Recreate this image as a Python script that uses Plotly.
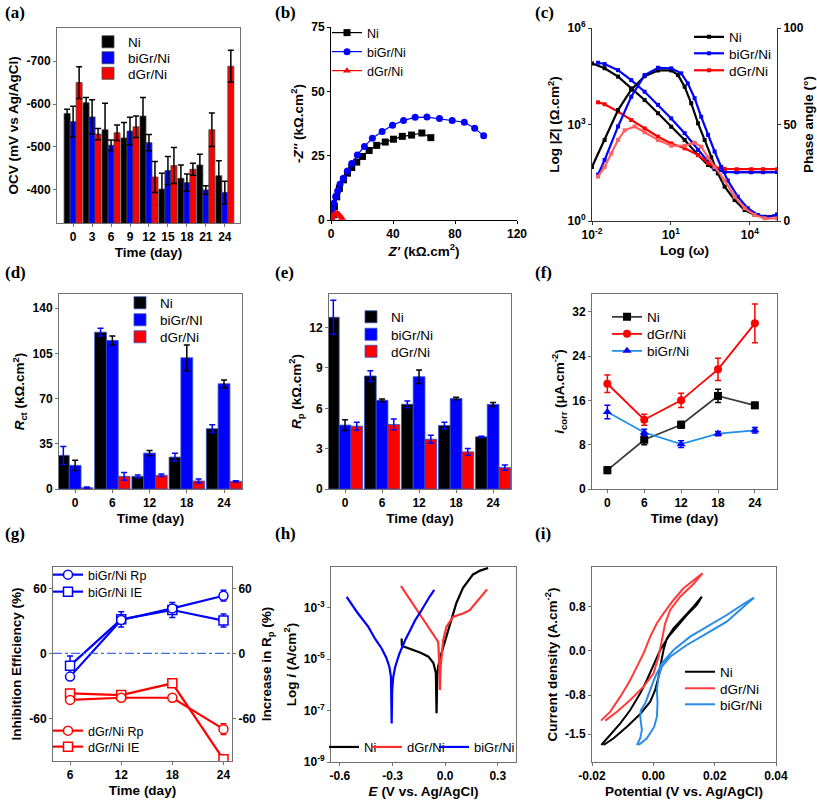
import numpy as np
import plotly.graph_objects as go

W, H = 817, 806
FONT = "Liberation Sans, Arial, sans-serif"

# ---------------- (a) OCV ----------------
days_a = [0, 3, 6, 9, 12, 15, 18, 21, 24]
ocv_ni = [-578, -603, -540, -521, -572, -402, -427, -458, -433]
ocv_ni_err = [10, 12, 62, 36, 43, 37, 31, 25, 35]
ocv_bi = [-559, -570, -504, -537, -510, -445, -417, -400, -394]
ocv_bi_err = [36, 40, 12, 32, 19, 33, 20, 10, 26]
ocv_dg = [-650, -530, -533, -547, -430, -457, -448, -540, -688]
ocv_dg_err = [37, 13, 18, 25, 36, 42, 14, 39, 37]
ocv_ticks = [-700, -600, -500, -400]
ocv_ticktext = ["-700", "-600", "-500", "-400"]

# ---------------- (b) Nyquist ----------------
nyq_ni_x = [1.5, 2.2, 3.7, 5.4, 8, 10.6, 13.4, 16.6, 20.3, 24.6, 29.5, 35, 40.3, 46, 52, 58.6, 64.4]
nyq_ni_y = [2, 5.2, 9, 12.3, 15.6, 18.2, 20.4, 22.5, 24.7, 27, 29, 30.3, 31.4, 32.5, 33, 33.8, 32]
nyq_bi_x = [0.4, 1.1, 1.9, 3, 4.3, 5.8, 8, 10.6, 13.4, 17, 21.6, 26.7, 33, 39.7, 46.8, 54.3, 61.9, 70, 78.2, 86, 92.7, 98.5]
nyq_bi_y = [1.3, 3.9, 6.5, 9, 11.3, 13.9, 16.2, 19, 22, 25.3, 28.6, 31.8, 34.4, 36.8, 38.7, 39.9, 40, 39.4, 38.7, 38, 35.7, 32.7]
nyq_dg_x = [0.5, 1, 2, 3, 4, 5, 6, 7]
nyq_dg_y = [0.5, 1.5, 2.2, 2.6, 2.6, 2.2, 1.5, 0.8]

# ---------------- (c) Bode ----------------
bz_ni_logw = [-2, -1.52, -1.01, -0.51, 0, 0.51, 1.01, 1.52, 2.03, 2.41, 2.66, 3.04, 3.5, 4.05, 4.5, 5.04]
bz_ni_logz = [4.90, 4.75, 4.49, 4.12, 3.76, 3.35, 2.93, 2.52, 2.05, 1.74, 1.61, 1.53, 1.52, 1.52, 1.52, 1.52]
bz_bi_logw = [-1.77, -1.52, -1.01, -0.51, 0, 0.51, 1.01, 1.52, 2.03, 2.41, 2.66, 3.04, 3.5, 4.05, 4.5, 5.04]
bz_bi_logz = [4.92, 4.88, 4.69, 4.38, 4.02, 3.61, 3.19, 2.73, 2.21, 1.84, 1.64, 1.53, 1.52, 1.52, 1.52, 1.52]
bz_dg_logw = [-1.77, -1.52, -1.01, -0.51, 0, 0.51, 1.01, 1.52, 2.03, 2.41, 2.66, 3.04, 3.5, 4.05, 4.5, 5.04]
bz_dg_logz = [3.69, 3.63, 3.40, 3.14, 2.88, 2.62, 2.41, 2.26, 2.05, 1.80, 1.68, 1.62, 1.61, 1.61, 1.61, 1.61]
ph_ni_logw = [-2, -1.52, -1.01, -0.51, 0, 0.51, 1.01, 1.27, 1.52, 1.77, 2.03, 2.28, 2.53, 2.78, 3.04, 3.42, 3.80, 4.18, 4.56, 5.04]
ph_ni = [28, 42, 57.5, 68, 75, 78, 78, 75.6, 69.6, 61, 50.6, 42, 33, 24.7, 17.8, 10.9, 5.7, 3.1, 2.2, 3.1]
ph_bi_logw = [-1.77, -1.52, -1.01, -0.51, 0, 0.51, 1.01, 1.39, 1.64, 1.90, 2.15, 2.41, 2.66, 2.91, 3.16, 3.54, 3.92, 4.30, 4.68, 5.04]
ph_bi = [24, 31.6, 49, 64.4, 75.6, 79.4, 79.1, 76.5, 71.3, 63.6, 54, 44.6, 36, 28, 21, 12.6, 6.6, 3.1, 1.9, 3.5]
ph_dg_logw = [-1.77, -1.52, -1.27, -1.01, -0.76, -0.38, 0, 0.51, 1.01, 1.52, 1.90, 2.15, 2.41, 2.66, 3.04, 3.42, 3.80, 4.18, 4.56, 5.04]
ph_dg = [23, 28, 35, 42, 47, 49, 46, 42, 39, 39, 40.6, 38.5, 33, 28, 21, 12.6, 6.6, 3.1, 1.4, 1.4]

# ---------------- (d) Rct, (e) Rp, (f) icorr ----------------
days5 = [0, 6, 12, 18, 24]
rct_ni = [26, 121.4, 9.8, 24.7, 46.7]
rct_ni_err = [7, 3, 1, 3, 3]
rct_bi = [18.3, 115, 27.8, 101.6, 81.5]
rct_bi_err = [4, 3.5, 2, 10, 3]
rct_dg = [1, 9.8, 10.6, 6.2, 5.9]
rct_dg_err = [0.5, 3, 1, 1.5, 0.5]

rp_ni = [12.77, 8.4, 6.3, 4.72, 3.88]
rp_ni_err = [1.27, 0.4, 0.25, 0.25, 0.05]
rp_bi = [4.75, 6.6, 8.35, 6.73, 6.29]
rp_bi_err = [0.4, 0.1, 0.5, 0.1, 0.15]
rp_dg = [4.67, 4.8, 3.7, 2.76, 1.59]
rp_dg_err = [0.3, 0.4, 0.3, 0.25, 0.2]

ic_ni = [3.4, 8.9, 11.6, 16.8, 15.1]
ic_ni_err = [0.6, 0.9, 0.6, 1.2, 0.5]
ic_dg = [19.0, 12.5, 16.0, 21.6, 29.9]
ic_dg_err = [1.6, 1.0, 1.3, 2.0, 3.5]
ic_bi = [13.9, 10.2, 8.1, 10.0, 10.6]
ic_bi_err = [1.2, 0.6, 0.6, 0.4, 0.5]

# ---------------- (g) inhibition efficiency ----------------
days_g = [6, 12, 18, 24]
bi_rp = [-21.5, 30.8, 41.5, 53.2]
bi_rp_err = [0, 0, 0, 5]
bi_ie = [-11.4, 31.4, 40, 30.2]
bi_ie_err = [9, 7, 7, 6]
dg_rp = [-43, -41, -41, -70]
dg_rp_err = [3, 0, 0, 5]
dg_ie = [-37, -38.5, -27.7, -97.8]
g_ticks = [-60, 0, 60]
g_ticktext = ["-60", "0", "60"]

# ---------------- (h) Tafel ----------------
taf_ni_e = [-0.248, -0.247, -0.240, -0.216, -0.180, -0.140, -0.095, -0.067, -0.053, -0.049, -0.045, -0.040, -0.021, 0.007, 0.036, 0.064, 0.102, 0.159, 0.200, 0.245]
taf_ni_logi = [-4.19, -4.45, -4.50, -4.56, -4.66, -4.75, -4.90, -5.15, -5.54, -7.10, -5.60, -5.28, -4.76, -4.11, -3.40, -2.81, -2.22, -1.70, -1.55, -1.45]
taf_dg_e = [-0.252, -0.212, -0.172, -0.115, -0.058, -0.040, -0.034, -0.030, -0.026, -0.021, -0.011, 0.007, 0.045, 0.075, 0.102, 0.140, 0.188, 0.239]
taf_dg_logi = [-2.15, -2.55, -2.96, -3.54, -4.13, -4.32, -5.04, -6.20, -5.30, -4.91, -4.26, -3.74, -3.35, -3.28, -3.22, -3.09, -2.70, -2.28]
taf_bi_e = [-0.562, -0.50, -0.438, -0.40, -0.362, -0.335, -0.318, -0.309, -0.305, -0.302, -0.296, -0.285, -0.262, -0.229, -0.200, -0.172, -0.140, -0.115, -0.088, -0.062]
taf_bi_logi = [-2.57, -3.19, -3.74, -4.20, -4.58, -4.95, -5.30, -5.69, -7.50, -6.20, -5.69, -5.30, -4.80, -4.27, -3.88, -3.49, -3.15, -2.84, -2.56, -2.30]

# ---------------- (i) CV ----------------
cv_ni_v = [-0.01696, -0.01403, -0.01078, -0.00752, -0.00427, -0.00210, 0.0, 0.00224, 0.00496, 0.00767, 0.01092, 0.01418, 0.01581,
           0.01309, 0.00984, 0.00658, 0.00441, 0.00333, 0.00246, 0.00170, 0.00061, -0.00101, -0.00427, -0.00861, -0.01295, -0.01620]
cv_ni_j = [-1.698, -1.517, -1.306, -1.066, -0.765, -0.524, -0.253, 0.018, 0.259, 0.440, 0.650, 0.831, 0.981,
           0.801, 0.608, 0.409, 0.229, 0.018, -0.223, -0.464, -0.704, -0.915, -1.138, -1.367, -1.577, -1.698]
cv_dg_v = [-0.01707, -0.01403, -0.01078, -0.00752, -0.00535, -0.00318, -0.00101, 0.00116, 0.00333, 0.00658, 0.00984, 0.01309, 0.01602,
           0.01309, 0.00875, 0.00550, 0.00387, 0.00279, 0.00170, 0.00007, -0.00318, -0.00752, -0.01186, -0.01566]
cv_dg_j = [-1.258, -1.096, -0.825, -0.524, -0.283, -0.042, 0.259, 0.500, 0.680, 0.921, 1.132, 1.282, 1.403,
           1.210, 0.981, 0.741, 0.500, 0.199, -0.102, -0.403, -0.644, -0.885, -1.096, -1.258]
cv_bi_v = [-0.00535, -0.00427, -0.00373, -0.00427, -0.00405, -0.00264, -0.00101, 0.00062, 0.00279, 0.00658, 0.01201, 0.01743, 0.02394, 0.02937, 0.03284,
           0.03045, 0.02394, 0.01743, 0.01092, 0.00550, 0.00279, 0.00170, 0.00116, 0.00137, 0.00116, 0.00029, -0.00210, -0.00481]
cv_bi_j = [-1.698, -1.577, -1.427, -1.186, -1.066, -0.945, -0.704, -0.464, -0.223, 0.018, 0.259, 0.440, 0.650, 0.849, 0.963,
           0.849, 0.530, 0.319, 0.108, -0.102, -0.283, -0.464, -0.704, -0.945, -1.186, -1.367, -1.577, -1.698]

# =====================================================================
BLACK, BLUE, RED = "#000000", "#0000FF", "#FF0000"


def xd(a, b):
    return [a / W, b / W]


def yd(top, bot):
    return [1 - bot / H, 1 - top / H]


def axis(title, domain, anchor, rng=None, frame="#707070", mirror=True, standoff=4, **kw):
    d = dict(domain=domain, anchor=anchor, showline=True, linecolor=frame, linewidth=1, automargin=False,
             mirror=mirror, ticks="outside", ticklen=3, tickcolor=frame, showgrid=False,
             zeroline=False, tickfont=dict(size=12, color="black", family=FONT, weight="bold"),
             title=dict(text=title, font=dict(size=13.5, color="black", family=FONT, weight="bold"),
                        standoff=standoff))
    if rng is not None:
        d["range"] = rng
    d.update(kw)
    return d


legends = {}
leg_count = [0]


def new_leg(text_x, cy, size=13):
    leg_count[0] += 1
    key = "legend" if leg_count[0] == 1 else f"legend{leg_count[0]}"
    legends[key] = dict(x=(text_x - 40) / W, y=1 - cy / H, xanchor="left", yanchor="middle",
                        bgcolor="rgba(0,0,0,0)", borderwidth=0,
                        font=dict(size=size, family=FONT, color="black"))
    return key


fig = go.Figure()


def err(arr, color):
    return dict(type="data", array=arr, color=color, thickness=1.5, width=3, visible=True)


# (a)
for name, vals, e, col, lx, ly in [("Ni", ocv_ni, ocv_ni_err, BLACK, 128, 42),
                                   ("biGr/Ni", ocv_bi, ocv_bi_err, BLUE, 128, 58),
                                   ("dGr/Ni", ocv_dg, ocv_dg_err, RED, 128, 73.5)]:
    fig.add_trace(go.Bar(x=days_a, y=vals, name=name, marker=dict(color=col, line=dict(color="#444", width=0.8)),
                         error_y=err(e, BLACK), xaxis="x", yaxis="y", legend=new_leg(lx, ly, 13.5)))

# (b)
fig.add_trace(go.Scatter(x=nyq_ni_x, y=nyq_ni_y, name="Ni", mode="lines+markers",
                         line=dict(color=BLACK, width=1.2), marker=dict(symbol="square", size=7, color=BLACK),
                         xaxis="x2", yaxis="y2", legend=new_leg(367, 33, 12.5)))
fig.add_trace(go.Scatter(x=nyq_bi_x, y=nyq_bi_y, name="biGr/Ni", mode="lines+markers",
                         line=dict(color=BLUE, width=1.2), marker=dict(symbol="circle", size=7, color=BLUE),
                         xaxis="x2", yaxis="y2", legend=new_leg(367, 52, 12.5)))
fig.add_trace(go.Scatter(x=nyq_dg_x, y=nyq_dg_y, name="dGr/Ni", mode="lines+markers",
                         line=dict(color=RED, width=1.2), marker=dict(symbol="triangle-up", size=7, color=RED),
                         xaxis="x2", yaxis="y2", legend=new_leg(367, 71, 12.5)))


# (c)
def pw(a):
    return (10 ** np.array(a)).tolist()


for name, lw, lz, col, cy in [("Ni", bz_ni_logw, bz_ni_logz, BLACK, 37),
                              ("biGr/Ni", bz_bi_logw, bz_bi_logz, BLUE, 53.5),
                              ("dGr/Ni", bz_dg_logw, bz_dg_logz, RED, 70.5)]:
    fig.add_trace(go.Scatter(x=pw(lw), y=pw(lz), name=name, mode="lines+markers",
                             line=dict(color=col, width=2.2), marker=dict(symbol="square", size=4, color=col),
                             xaxis="x3", yaxis="y3", legend=new_leg(729, cy, 13.5)))
for name, lw, ph, col in [("Ni", ph_ni_logw, ph_ni, BLACK), ("biGr/Ni", ph_bi_logw, ph_bi, BLUE),
                          ("dGr/Ni", ph_dg_logw, ph_dg, "#FF6060")]:
    fig.add_trace(go.Scatter(x=pw(lw), y=ph, name=name, mode="lines+markers", showlegend=False,
                             line=dict(color=col, width=2.2), marker=dict(symbol="square", size=4, color=col),
                             xaxis="x3", yaxis="y4"))

# (d)
for name, vals, e, col, ecol, cy in [("Ni", rct_ni, rct_ni_err, BLACK, BLUE, 303),
                                     ("biGr/NI", rct_bi, rct_bi_err, BLUE, BLACK, 320),
                                     ("dGr/Ni", rct_dg, rct_dg_err, RED, BLUE, 337)]:
    fig.add_trace(go.Bar(x=days5, y=vals, name=name, marker=dict(color=col, line=dict(color="#3050c0", width=0.8)),
                         error_y=err(e, ecol), xaxis="x4", yaxis="y5", legend=new_leg(160, cy, 13.5)))

# (e)
for name, vals, e, col, ecol, cy in [("Ni", rp_ni, rp_ni_err, BLACK, BLUE, 317),
                                     ("biGr/Ni", rp_bi, rp_bi_err, BLUE, BLACK, 334.5),
                                     ("dGr/Ni", rp_dg, rp_dg_err, RED, BLUE, 351.5)]:
    fig.add_trace(go.Bar(x=days5, y=vals, name=name, marker=dict(color=col, line=dict(color="#3050c0", width=0.8)),
                         error_y=err(e, ecol), xaxis="x5", yaxis="y6", legend=new_leg(391, cy, 13.5)))

# (f)
for name, vals, e, lcol, mcol, sym, cy in [("Ni", ic_ni, ic_ni_err, "#3a3a3a", BLACK, "square", 317),
                                           ("dGr/Ni", ic_dg, ic_dg_err, RED, RED, "circle", 334),
                                           ("biGr/Ni", ic_bi, ic_bi_err, "#1E8FE8", BLUE, "triangle-up", 351)]:
    fig.add_trace(go.Scatter(x=days5, y=vals, name=name, mode="lines+markers",
                             line=dict(color=lcol, width=1.8), marker=dict(symbol=sym, size=8, color=mcol),
                             error_y=err(e, mcol), xaxis="x6", yaxis="y7", legend=new_leg(647, cy, 13.5)))

# (g)
for name, vals, e, col, sym, ya, cy in [("biGr/Ni Rp", bi_rp, bi_rp_err, BLUE, "circle", "y9", 575),
                                        ("biGr/Ni IE", bi_ie, bi_ie_err, BLUE, "square", "y8", 592),
                                        ("dGr/Ni Rp", dg_rp, dg_rp_err, RED, "circle", "y9", 731),
                                        ("dGr/Ni IE", dg_ie, [0, 0, 0, 0], RED, "square", "y8", 747)]:
    fig.add_trace(go.Scatter(x=days_g, y=vals, name=name, mode="lines+markers",
                             line=dict(color=col, width=2.2),
                             marker=dict(symbol=sym, size=9, color="white", line=dict(color=col, width=1.5)),
                             error_y=err(e, col), xaxis="x7", yaxis=ya, legend=new_leg(88, cy, 12.5)))

# (h)
for name, ev, li, col, tx in [("Ni", taf_ni_e, taf_ni_logi, BLACK, 364),
                              ("dGr/Ni", taf_dg_e, taf_dg_logi, "#FF3030", 407),
                              ("biGr/Ni", taf_bi_e, taf_bi_logi, BLUE, 474)]:
    fig.add_trace(go.Scatter(x=ev, y=pw(li), name=name, mode="lines", line=dict(color=col, width=2.2),
                             xaxis="x8", yaxis="y10", legend=new_leg(tx, 747, 13)))

# (i)
for name, v, j, col, cy in [("Ni", cv_ni_v, cv_ni_j, BLACK, 672),
                            ("dGr/Ni", cv_dg_v, cv_dg_j, "#FF3B3B", 688.5),
                            ("biGr/Ni", cv_bi_v, cv_bi_j, "#2A8BE8", 704.5)]:
    fig.add_trace(go.Scatter(x=v, y=j, name=name, mode="lines", line=dict(color=col, width=2),
                             xaxis="x9", yaxis="y11", legend=new_leg(720, cy, 13.5)))

# ------------------ layout ------------------
layout = dict(
    template="none",
    width=W, height=H, margin=dict(l=0, r=0, t=0, b=0, autoexpand=False), paper_bgcolor="white",
    plot_bgcolor="white",
    barmode="group", bargap=0.05, bargroupgap=0, font=dict(family=FONT, color="black"),
    # (a)
    xaxis=axis("Time (day)", xd(57, 240), "y", [-2.55, 26.4], tickvals=days_a),
    yaxis=axis("OCV (mV vs Ag/AgCl)", yd(28, 223), "x", [-323, -777], tickvals=ocv_ticks, ticktext=ocv_ticktext),
    # (b)
    xaxis2=axis("<i>Z'</i> (kΩ.cm<sup>2</sup>)", xd(331, 517), "y2", [0, 120], frame="#000", mirror=False,
                tickvals=[0, 40, 80, 120]),
    yaxis2=axis("-<i>Z''</i> (kΩ.cm<sup>2</sup>)", yd(27, 220), "x2", [0, 75], frame="#000", mirror=False,
                tickvals=[0, 25, 50, 75]),
    # (c)
    xaxis3=axis("Log (ω)", xd(592, 777), "y3", [-2, 5.03], type="log", frame="#333", mirror=False,
                tickvals=[1e-2, 1e1, 1e4], ticktext=["10<sup>-2</sup>", "10<sup>1</sup>", "10<sup>4</sup>"]),
    yaxis3=axis("Log |<b><i>Z</i></b>| (Ω.cm<sup>2</sup>)", yd(28, 221), "x3", [0, 6], type="log", frame="#333",
                mirror=False, tickvals=[1, 1e3, 1e6], ticktext=["10<sup>0</sup>", "10<sup>3</sup>", "10<sup>6</sup>"]),
    yaxis4=axis("Phase angle (°)", yd(28, 221), "x3", [0, 100], frame="#333", mirror=False, overlaying="y3",
                side="right", tickvals=[0, 50, 100], standoff=0),
    # (d)
    xaxis4=axis("Time (day)", xd(59, 242), "y5", [-2.6, 26.9], tickvals=days5),
    yaxis5=axis("<i>R</i><sub>ct</sub> (kΩ.cm<sup>2</sup>)", yd(294, 489), "x4", [0, 151],
                tickvals=[0, 35, 70, 105, 140]),
    # (e)
    xaxis5=axis("Time (day)", xd(329, 511), "y6", [-2.6, 26.9], tickvals=days5),
    yaxis6=axis("<i>R</i><sub>p</sub> (kΩ.cm<sup>2</sup>)", yd(294, 489), "x5", [0, 14.5],
                tickvals=[0, 3, 6, 9, 12]),
    # (f)
    xaxis6=axis("Time (day)", xd(592, 777), "y7", [-2.5, 27.6], tickvals=days5),
    yaxis7=axis("<i>i</i><sub>corr</sub> (μA.cm<sup>-2</sup>)", yd(294, 489), "x6", [0, 35.2],
                tickvals=[0, 8, 16, 24, 32]),
    # (g)
    xaxis7=axis("Time (day)", xd(53, 232), "y8", [4.0, 25.0], tickvals=days_g),
    yaxis8=axis("Inhibition Efficiency (%)", yd(567, 761), "x7", [-99.4, 79.7], tickvals=g_ticks,
                ticktext=g_ticktext),
    yaxis9=axis("Increase in R<sub>p</sub> (%)", yd(567, 761), "x7", [-99.4, 79.7], overlaying="y8",
                side="right", tickvals=g_ticks, ticktext=g_ticktext, mirror=False, standoff=6),
    # (h)
    xaxis8=axis("<i>E</i> (V vs. Ag/AgCl)", xd(331, 516), "y10", [-0.651, 0.404],
                tickvals=[-0.6, -0.3, 0.0, 0.3], ticktext=["-0.6", "-0.3", "0.0", "0.3"]),
    yaxis10=axis("Log <i>i</i> (A/cm<sup>2</sup>)", yd(567, 762), "x8", [-9, -1.41], type="log",
                 tickvals=[1e-9, 1e-7, 1e-5, 1e-3],
                 ticktext=["10<sup>-9</sup>", "10<sup>-7</sup>", "10<sup>-5</sup>", "10<sup>-3</sup>"]),
    # (i)
    xaxis9=axis("Potential (V vs. Ag/AgCl)", xd(592, 776), "y11", [-0.02, 0.04],
                tickvals=[-0.02, 0.0, 0.02, 0.04], ticktext=["-0.02", "0.00", "0.02", "0.04"]),
    yaxis11=axis("Current density (A.cm<sup>-2</sup>)", yd(567, 762), "x9", [-2.005, 1.517],
                 tickvals=[0.8, 0.0, -0.8, -1.5], ticktext=["0.8", "0.0", "-0.8", "-1.5"]),
)
layout.update(legends)

# panel letters
annotations = []
for lab, px, py in [("(a)", 3, 12), ("(b)", 273, 12), ("(c)", 533, 12),
                    ("(d)", 3, 272), ("(e)", 273, 272), ("(f)", 533, 272),
                    ("(g)", 3, 533), ("(h)", 273, 533), ("(i)", 533, 533)]:
    annotations.append(dict(text=lab, x=px / W, y=1 - py / H, xref="paper", yref="paper", xanchor="left",
                            yanchor="middle", showarrow=False,
                            font=dict(family="Liberation Serif, Times New Roman, serif", size=17, weight="bold",
                                      color="black")))
layout["annotations"] = annotations
layout["shapes"] = [dict(type="line", xref="x7 domain", yref="y8", x0=0, x1=1, y0=0, y1=0,
                         line=dict(color="#3a6ee8", width=1.3, dash="dashdot"))]

fig.update_layout(**layout)
fig.write_html("out.html", config={"displayModeBar": False},
               post_script="document.body.style.margin='0px'; document.body.style.overflow='hidden';")
